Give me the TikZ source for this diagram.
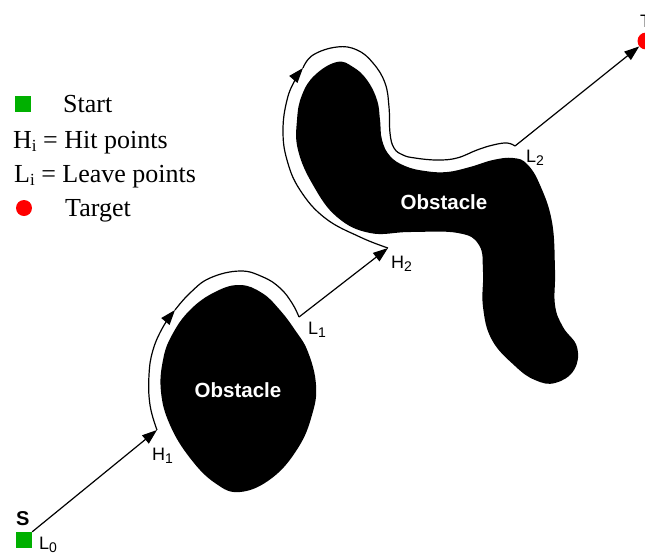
\documentclass[tikz,border=0pt]{standalone}
\usepackage{fontspec}
\setmainfont{Liberation Serif}
\setsansfont{Liberation Sans}
\usetikzlibrary{arrows.meta}
\definecolor{startgreen}{RGB}{0,176,0}
\definecolor{targetred}{RGB}{255,0,0}
\newcommand{\mysub}[1]{\raisebox{-0.2em}{\fontsize{14}{14}\selectfont #1}}
\newcommand{\legsub}[1]{\raisebox{-0.12em}{\fontsize{17}{17}\selectfont #1}}
\begin{document}
\begin{tikzpicture}[x=1pt,y=-1pt,
  conn/.style={line width=1.2pt,-{Triangle[length=15pt,width=10.5pt]}},
  follow/.style={line width=1.2pt},
  followarrow/.style={line width=1.2pt,-{Triangle[length=15pt,width=10.5pt]}},
  lbl/.style={font=\sffamily\fontsize{18}{18}\selectfont,anchor=base west,inner sep=0pt},
  boldlbl/.style={font=\sffamily\bfseries\fontsize{20}{20}\selectfont,anchor=base west,inner sep=0pt},
  leg/.style={font=\fontsize{26}{26}\selectfont,anchor=base west,inner sep=0pt},
  obtext/.style={font=\sffamily\bfseries\fontsize{20.5}{20.5}\selectfont,text=white,inner sep=0pt},
  startbox/.style={fill=startgreen,minimum size=16pt,inner sep=0pt},
  targetdot/.style={circle,fill=targetred,minimum size=17pt,inner sep=0pt}]
\useasboundingbox (0,0) rectangle (645,555);

% obstacles
\fill plot[smooth cycle,tension=0.7] coordinates {
 (240,285) (262,293) (279,309) (295,330) (308,352) (316,385) (312,415)
 (298,448) (272,478) (240,492) (215,483) (190,458) (170,425) (161,392)
 (163,360) (172,335) (190,310) (215,292)};
\fill plot[smooth cycle,tension=0.7] coordinates {
 (337,62) (353,67) (367,80) (377,100) (380,120) (382,140) (390,156)
 (405,166) (425,171) (447,172) (470,167) (493,160) (513,158) (527,164)
 (540,185) (552,222) (555,270) (555,305) (563,327) (577,347) (574,370)
 (555,383) (535,380) (515,366) (492,340) (483,307) (483,272) (479,245)
 (458,233) (410,232) (370,233) (337,217) (313,185) (298,150) (297,120)
 (302,95) (315,75)};
\node[obtext] (ob1) at (238,390) {Obstacle};
\node[obtext] (ob2) at (444,202) {Obstacle};

% key points
\node[startbox] (S) at (24,540) {};
\node[targetdot] (T) at (646,41) {};
\coordinate (H1) at (157,430);
\coordinate (A1) at (175,310);
\coordinate (L1) at (299,317);
\coordinate (H2) at (388,248);
\coordinate (A2) at (303,68);
\coordinate (L2) at (515,146);

% straight segments
\draw[conn] (S.north east) -- (H1);
\draw[conn] (L1) -- (H2);
\draw[conn] (L2) -- (T);

% boundary following, obstacle 1
\draw[followarrow] plot[smooth,tension=0.7] coordinates {
 (H1) (150,405) (149,375) (153,350) (163,327) (A1)};
\draw[follow] plot[smooth,tension=0.7] coordinates {
 (A1) (190,293) (210,278) (240,271) (263,277) (280,288) (292,303) (L1)};

% boundary following, obstacle 2
\draw[followarrow] plot[smooth,tension=0.7] coordinates {
 (H2) (360,237) (325,218) (300,190) (287,160) (283,130) (287,100) (295,80) (A2)};
\draw[follow] plot[smooth,tension=0.7] coordinates {
 (A2) (313,55) (337,47) (357,50) (373,63) (385,83) (389,107) (390,133)
 (394,148) (403,155) (415,158) (437,160) (457,158) (477,150) (493,145)
 (507,143) (L2)};

% point labels
\node[boldlbl] (lS) at (16,525) {S};
\node[lbl] (lL0) at (39,549) {L\mysub{0}};
\node[lbl] (lH1) at (152,460) {H\mysub{1}};
\node[lbl] (lL1) at (308,334) {L\mysub{1}};
\node[lbl] (lH2) at (391,268) {H\mysub{2}};
\node[lbl] (lL2) at (526,162) {L\mysub{2}};
\node[lbl] (lT) at (640,27) {T};

% legend
\node[startbox] (kS) at (23,104) {};
\node[leg] (kSt) at (63,112) {Start};
\node[leg] (kH) at (13,148) {H\legsub{i} = Hit points};
\node[leg] (kL) at (14,182) {L\legsub{i} = Leave points};
\node[targetdot,minimum size=16pt] (kT) at (24,208) {};
\node[leg] (kTt) at (65,216) {Target};
\end{tikzpicture}
\end{document}
